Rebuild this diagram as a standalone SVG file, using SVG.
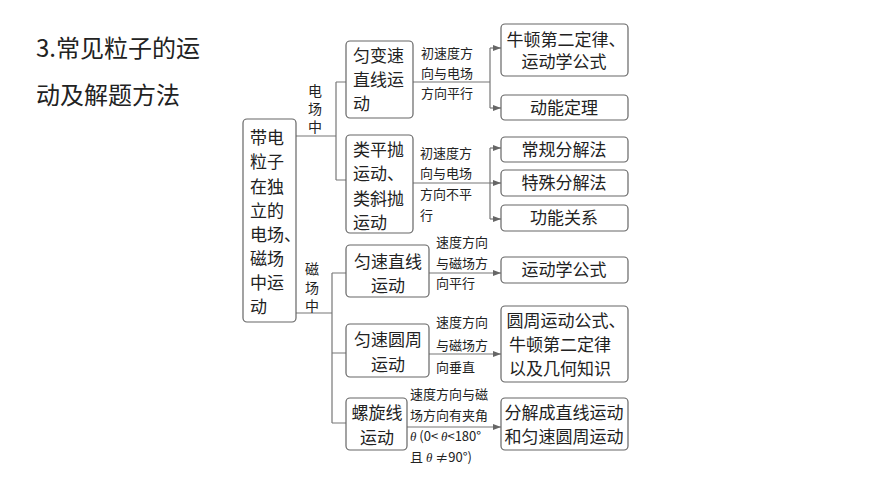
<svg xmlns="http://www.w3.org/2000/svg" width="870" height="489" viewBox="0 0 870 489">
<defs>
<marker id="ar" markerWidth="8" markerHeight="6" refX="8" refY="3" orient="auto" markerUnits="userSpaceOnUse"><path d="M0,0 L8,3 L0,6 Z" fill="#666"/></marker>
<style>
text{font-family:"Noto Sans CJK SC","Noto Sans",sans-serif;fill:#222}
.b{fill:#fff;stroke:#666;stroke-width:1.2}
.t{font-size:17px}
.v{font-size:14px}
.s{font-size:13px}
.c{text-anchor:middle}
.l{fill:none;stroke:#777;stroke-width:1.2}
.a{fill:none;stroke:#777;stroke-width:1.2;marker-end:url(#ar)}
</style>
</defs>
<rect width="870" height="489" fill="#fff"/>
<g id="title"><text x="36" y="57" style="font-size:24px">3.常见粒子的运</text><text x="36" y="104" style="font-size:24px">动及解题方法</text></g>
<g id="connectors">
<path class="l" d="M296,136H336M336,82V180M336,82H346M336,180H346"/>
<path class="l" d="M296,313H332M332,273V423M332,273H346M332,353H346M332,423H346"/>
<path class="l" d="M413,82H490M490,48V108"/><path class="a" d="M490,48H501"/><path class="a" d="M490,108H501"/>
<path class="l" d="M413,183H490M490,148V219"/><path class="a" d="M490,148H501"/><path class="a" d="M490,183H501"/><path class="a" d="M490,219H501"/>
<path class="a" d="M429,273H501"/><path class="a" d="M429,354H501"/><path class="a" d="M407,427H501"/>
<g class="s"><text x="421" y="58">初速度方</text><text x="421" y="78">向与电场</text><text x="421" y="98">方向平行</text>
<text x="420" y="158">初速度方</text><text x="420" y="178">向与电场</text><text x="420" y="199">方向不平</text><text x="420" y="220">行</text>
<text x="436" y="247">速度方向</text><text x="436" y="268">与磁场方</text><text x="436" y="288">向平行</text>
<text x="436" y="327">速度方向</text><text x="436" y="350">与磁场方</text><text x="436" y="372">向垂直</text>
<text x="410" y="399">速度方向与磁</text><text x="410" y="420">场方向有夹角</text><text x="410" y="441"><tspan font-style="italic" font-family="Liberation Serif">θ</tspan> (0&lt; <tspan font-style="italic" font-family="Liberation Serif">θ</tspan>&lt;180°</text><text x="410" y="462">且 <tspan font-style="italic" font-family="Liberation Serif">θ</tspan> ≠90°)</text></g>
<g class="v"><text x="308" y="96">电</text><text x="308" y="114">场</text><text x="308" y="132">中</text>
<text x="305" y="274">磁</text><text x="305" y="293">场</text><text x="305" y="311">中</text></g>
</g>
<g id="root"><rect class="b" x="243" y="119" width="53" height="203" rx="4"/><g class="t"><text x="250" y="144">带电</text><text x="250" y="168">粒子</text><text x="250" y="193">在独</text><text x="250" y="217">立的</text><text x="250" y="241">电场、</text><text x="250" y="265">磁场</text><text x="250" y="289">中运</text><text x="250" y="313">动</text></g></g>
<g id="n1"><rect class="b" x="346" y="41" width="67" height="77" rx="4"/><g class="t"><text x="353" y="62">匀变速</text><text x="353" y="86">直线运</text><text x="353" y="110">动</text></g></g>
<g id="n2"><rect class="b" x="346" y="135" width="67" height="98" rx="4"/><g class="t"><text x="353" y="156">类平抛</text><text x="353" y="180">运动、</text><text x="353" y="205">类斜抛</text><text x="353" y="229">运动</text></g></g>
<g id="n3"><rect class="b" x="346" y="245" width="83" height="52" rx="4"/><g class="t c"><text x="388" y="268">匀速直线</text><text x="388" y="292">运动</text></g></g>
<g id="n4"><rect class="b" x="346" y="324" width="83" height="53" rx="4"/><g class="t c"><text x="388" y="346">匀速圆周</text><text x="388" y="371">运动</text></g></g>
<g id="n5"><rect class="b" x="346" y="398" width="61" height="52" rx="4"/><g class="t c"><text x="377" y="419">螺旋线</text><text x="377" y="444">运动</text></g></g>
<g id="r1"><rect class="b" x="501" y="24" width="127" height="52" rx="4"/><g class="t c"><text x="566" y="46">牛顿第二定律、</text><text x="564" y="68">运动学公式</text></g></g>
<g id="r2"><rect class="b" x="501" y="95" width="127" height="25" rx="4"/><text class="t c" x="564" y="114">动能定理</text></g>
<g id="r3"><rect class="b" x="501" y="137" width="127" height="25" rx="4"/><text class="t c" x="564" y="156">常规分解法</text></g>
<g id="r4"><rect class="b" x="501" y="170" width="127" height="26" rx="4"/><text class="t c" x="564" y="189">特殊分解法</text></g>
<g id="r5"><rect class="b" x="501" y="205" width="127" height="26" rx="4"/><text class="t c" x="564" y="224">功能关系</text></g>
<g id="r6"><rect class="b" x="501" y="257" width="127" height="26" rx="4"/><text class="t c" x="564" y="276">运动学公式</text></g>
<g id="r7"><rect class="b" x="501" y="306" width="127" height="76" rx="4"/><g class="t c"><text x="566" y="327">圆周运动公式、</text><text x="560" y="351">牛顿第二定律</text><text x="560" y="375">以及几何知识</text></g></g>
<g id="r8"><rect class="b" x="501" y="398" width="127" height="52" rx="4"/><g class="t c"><text x="564" y="419">分解成直线运动</text><text x="564" y="443">和匀速圆周运动</text></g></g>
</svg>
